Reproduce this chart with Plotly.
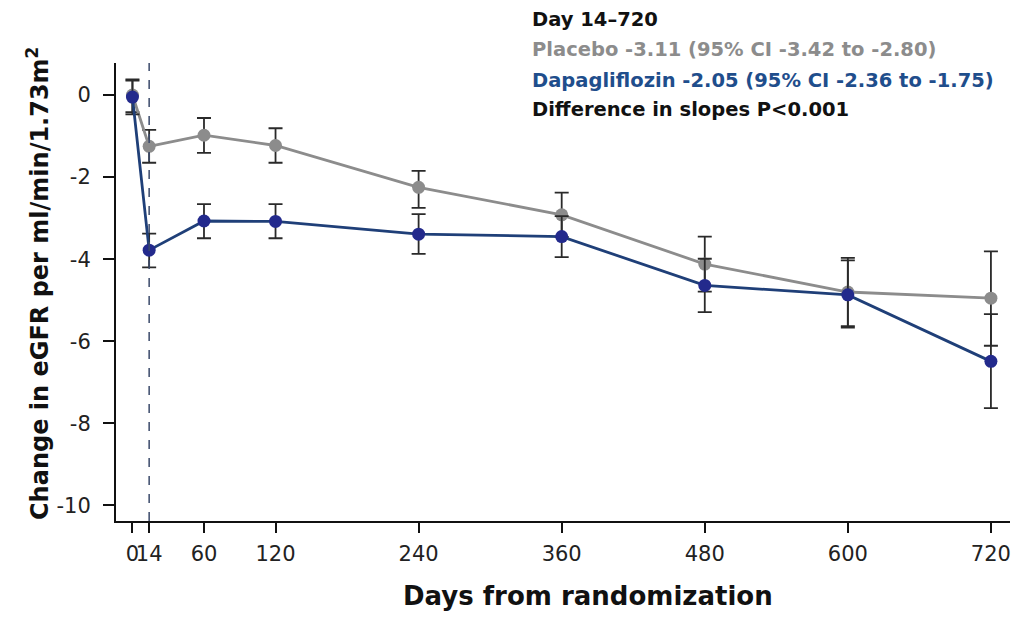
import plotly.graph_objects as go

days = [0, 14, 60, 120, 240, 360, 480, 600, 720]
placebo = [0.0, -1.25, -0.98, -1.23, -2.25, -2.92, -4.12, -4.80, -4.95]
placebo_hi = [0.38, 0.40, 0.42, 0.42, 0.40, 0.54, 0.67, 0.83, 1.14]
placebo_lo = [0.42, 0.40, 0.43, 0.42, 0.50, 0.54, 0.67, 0.83, 1.16]
dapa = [-0.05, -3.78, -3.07, -3.08, -3.39, -3.45, -4.64, -4.87, -6.49]
dapa_hi = [0.40, 0.40, 0.41, 0.42, 0.49, 0.50, 0.65, 0.84, 1.15]
dapa_lo = [0.42, 0.42, 0.42, 0.41, 0.48, 0.50, 0.65, 0.80, 1.14]

xticks = [0, 14, 60, 120, 240, 360, 480, 600, 720]
yticks = [0, -2, -4, -6, -8, -10]

stats_lines = [
    "Day 14–720",
    "Placebo -3.11 (95% CI -3.42 to -2.80)",
    "Dapagliflozin -2.05 (95% CI -2.36 to -1.75)",
    "Difference in slopes P<0.001",
]
stats_colors = ["#111111", "#8c8c8c", "#1f4e8c", "#111111"]

FONT = "DejaVu Sans, Liberation Sans, Arial, sans-serif"
GRAY = "#8c8c8c"
NAVY = "#232a8c"
LINE_BLUE = "#1f3f78"

# page body has an 8px margin: figure is drawn at (8, 8)
OFF = 8
PL, PR, PT, PB = 116, 1010, 63, 521          # plot area in screen pixels
FW, FH = 1026 - 2 * OFF, 621 - 2 * OFF


def px(x):
    return (x - PL) / (PR - PL)


def py(y):
    return (PB - y) / (PB - PT)


fig = go.Figure()
fig.add_trace(go.Scatter(
    x=days, y=placebo, mode="lines+markers",
    line=dict(color=GRAY, width=2.8),
    marker=dict(color=GRAY, size=13),
    error_y=dict(type="data", array=placebo_hi, arrayminus=placebo_lo,
                 color="#2a2a2a", thickness=1.8, width=7),
    showlegend=False))
fig.add_trace(go.Scatter(
    x=days, y=dapa, mode="lines+markers",
    line=dict(color=LINE_BLUE, width=2.8),
    marker=dict(color=NAVY, size=13),
    error_y=dict(type="data", array=dapa_hi, arrayminus=dapa_lo,
                 color="#2a2a2a", thickness=1.8, width=7),
    showlegend=False))

fig.add_shape(type="line", x0=14, x1=14, y0=0, y1=1, xref="x", yref="paper",
              line=dict(color="#3a4a6a", width=1.5, dash="dash"))

for t, c, yp in zip(stats_lines, stats_colors, [19, 49, 80, 110]):
    fig.add_annotation(text="<b>%s</b>" % t, x=px(530), y=py(yp),
                       xref="paper", yref="paper", showarrow=False,
                       xanchor="left", yanchor="middle",
                       font=dict(family=FONT, size=19.5, color=c))

fig.add_annotation(text="<b>Days from randomization</b>", x=px(588), y=py(596),
                   xref="paper", yref="paper", showarrow=False,
                   xanchor="center", yanchor="middle",
                   font=dict(family=FONT, size=26, color="#111111"))
fig.add_annotation(text="<b>Change in eGFR per ml/min/1.73m<sup>2</sup></b>",
                   x=px(38), y=py(284), xref="paper", yref="paper",
                   showarrow=False, textangle=-90,
                   xanchor="center", yanchor="middle",
                   font=dict(family=FONT, size=24, color="#111111"))

fig.update_layout(
    width=FW, height=FH,
    margin=dict(l=PL - OFF, r=FW - (PR - OFF), t=PT - OFF, b=FH - (PB - OFF),
                autoexpand=False),
    paper_bgcolor="white", plot_bgcolor="white",
    font=dict(family=FONT, size=21, color="#222222"),
    xaxis=dict(range=[-13.8, 736], tickvals=xticks, ticktext=[str(v) for v in xticks],
               tickangle=0,
               showline=True, linecolor="#111111", linewidth=2,
               ticks="outside", ticklen=10, tickwidth=1.5, tickcolor="#111111",
               ticklabelstandoff=3, automargin=False,
               showgrid=False, zeroline=False),
    yaxis=dict(range=[-10.38, 0.78], tickvals=yticks, ticktext=[str(v) for v in yticks],
               showline=True, linecolor="#111111", linewidth=2,
               ticks="outside", ticklen=11, tickwidth=1.5, tickcolor="#111111",
               ticklabelstandoff=8, automargin=False,
               showgrid=False, zeroline=False),
)

fig.write_html("out.html")
